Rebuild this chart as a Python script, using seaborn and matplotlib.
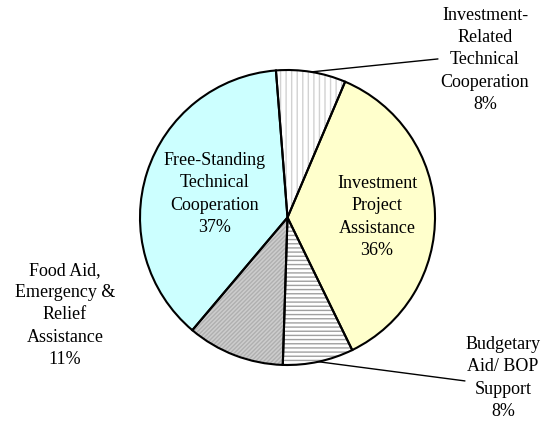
import matplotlib
matplotlib.use("Agg")
import matplotlib.pyplot as plt
import seaborn as sns
import numpy as np

categories = [
    "Investment-\nRelated\nTechnical\nCooperation",
    "Investment\nProject\nAssistance",
    "Budgetary\nAid/ BOP\nSupport",
    "Food Aid,\nEmergency &\nRelief\nAssistance",
    "Free-Standing\nTechnical\nCooperation",
]
values = [7.6, 36.2, 7.7, 10.6, 37.4]
face_colors = ["#ffffff", "#ffffcc", "#ffffff", "#cdcdcd", "#ccffff"]
hatches = ["|||", None, "----", "////////", None]
hatch_colors = ["#d2d2d2", "#ffffcc", "#a0a0a0", "#b0b0b0", "#ccffff"]

sns.set_theme(style="white")
plt.rcParams["font.family"] = ["Liberation Serif", "DejaVu Serif"]
plt.rcParams["hatch.linewidth"] = 1.0

W, H = 545, 426
fig = plt.figure(figsize=(W / 100, H / 100), dpi=100)
cx, cy, R = 287.5, 217.5, 147.5
ax = fig.add_axes([(cx - R) / W, (H - cy - R) / H, 2 * R / W, 2 * R / H])

start = 94.5
# fill + hatch layer
wedges, _ = ax.pie(values, startangle=start, counterclock=False, radius=1,
                   colors=face_colors, wedgeprops=dict(linewidth=0))
for w, h, hc in zip(wedges, hatches, hatch_colors):
    w.set_edgecolor(hc)
    w.set_linewidth(0)
    if h:
        w.set_hatch(h)
# outline layer
wedges2, _ = ax.pie(values, startangle=start, counterclock=False, radius=1,
                    colors=["none"] * len(values),
                    wedgeprops=dict(edgecolor="black", linewidth=1.5, fill=False))
ax.set_xlim(-1, 1)
ax.set_ylim(-1, 1)
ax.set_aspect("equal")
ax.axis("off")

pcts = [f"{v:.0f}%" for v in values]
labels = [c + "\n" + p for c, p in zip(categories, pcts)]

label_pos = [(1.339, 1.068), (0.607, 0.003), (1.461, -1.088), (-1.508, -0.661), (-0.492, 0.159)]
leader_end = {0: (1.02, 1.075), 2: (1.203, -1.108)}

for i, (w, lab, (lx, ly)) in enumerate(zip(wedges2, labels, label_pos)):
    ax.text(lx, ly, lab, ha="center", va="center", fontsize=13,
            linespacing=1.4, color="black", clip_on=False)
    if i in leader_end:
        mid = np.deg2rad((w.theta1 + w.theta2) / 2)
        sx, sy = np.cos(mid), np.sin(mid)
        ex, ey = leader_end[i]
        ax.plot([sx, ex], [sy, ey], color="black", lw=1.0, clip_on=False)

fig.savefig("out.png", dpi=100, facecolor="white")
